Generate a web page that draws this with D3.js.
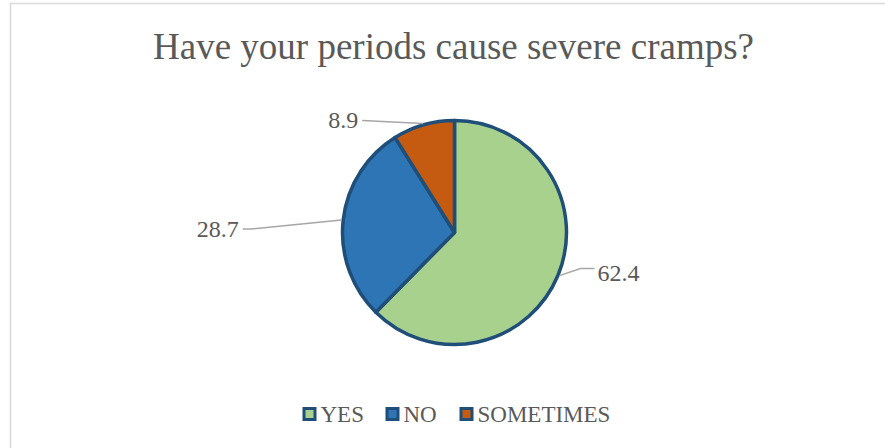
<!DOCTYPE html>
<html>
<head>
<meta charset="utf-8">
<script src="https://cdn.jsdelivr.net/npm/d3@7"></script>
<style>
  html, body { margin: 0; padding: 0; background: #fff; }
  svg { display: block; }
</style>
</head>
<body>
<svg id="chart" width="885" height="448"></svg>
<script>
// Survey answers (percent of respondents)
const categories = ["YES", "NO", "SOMETIMES"];
const values = [62.4, 28.7, 8.9];
const sliceColors = ["#a9d18e", "#2e75b6", "#c55a11"];
const titleText = "Have your periods cause severe cramps?";

// Leader-line layout per slice: elbow and end offsets from the slice edge, text anchor
const labelLayout = [
  { elbow: [21, -7], end: [35, -7], text: [38, -3], anchor: "start" },
  { elbow: [-91, 9], end: [-99, 9], text: [-103, 9], anchor: "end" },
  { elbow: [-61, -3], end: [-61, -3], text: [-65, -3], anchor: "end" }
];

const W = 885, H = 448;
const svg = d3.select("#chart");
const textColor = "#595959";
const serif = "'Liberation Serif', 'Times New Roman', Times, serif";

// Chart frame
svg.append("rect")
  .attr("x", 10.5).attr("y", 3.5)
  .attr("width", W).attr("height", H)
  .attr("fill", "none").attr("stroke", "#d9d9d9").attr("stroke-width", 1.5);

// Title
svg.append("text")
  .attr("x", 453.5).attr("y", 59)
  .attr("text-anchor", "middle")
  .attr("font-family", serif)
  .attr("font-size", 37)
  .attr("fill", textColor)
  .text(titleText);

const cx = 454.5, cy = 232.5, r = 112;
const data = categories.map((c, i) => ({ cat: c, value: values[i], color: sliceColors[i], layout: labelLayout[i] }));

const pie = d3.pie().value(d => d.value).sort(null);
const arc = d3.arc().innerRadius(0).outerRadius(r);
const arcs = pie(data);

const g = svg.append("g").attr("transform", `translate(${cx},${cy})`);

g.selectAll("path.slice")
  .data(arcs)
  .join("path")
  .attr("class", "slice")
  .attr("d", arc)
  .attr("fill", d => d.data.color)
  .attr("stroke", "#1f4e79")
  .attr("stroke-width", 3.5)
  .attr("stroke-linejoin", "round");

// Data labels with leader lines
arcs.forEach(a => {
  const mid = (a.startAngle + a.endAngle) / 2;
  const sx = Math.sin(mid) * (r + 1.5);
  const sy = -Math.cos(mid) * (r + 1.5);
  const L = a.data.layout;
  g.append("polyline")
    .attr("points", [[sx, sy], [sx + L.elbow[0], sy + L.elbow[1]], [sx + L.end[0], sy + L.end[1]]].map(p => p.join(",")).join(" "))
    .attr("fill", "none")
    .attr("stroke", "#a6a6a6")
    .attr("stroke-width", 1.5);
  g.append("text")
    .attr("x", sx + L.text[0])
    .attr("y", sy + L.text[1])
    .attr("dy", "0.33em")
    .attr("text-anchor", L.anchor)
    .attr("font-family", serif)
    .attr("font-size", 24)
    .attr("fill", textColor)
    .text(a.data.value.toFixed(1));
});

// Legend
const legend = svg.append("g").attr("transform", "translate(0,414)");
const legendX = [302.5, 385.5, 459.5];
data.forEach((d, i) => {
  const item = legend.append("g").attr("transform", `translate(${legendX[i]},0)`);
  item.append("rect")
    .attr("x", 1.5).attr("y", -5.5)
    .attr("width", 11).attr("height", 11)
    .attr("fill", d.color)
    .attr("stroke", "#1f4e79")
    .attr("stroke-width", 3);
  item.append("text")
    .attr("x", 18).attr("y", 0)
    .attr("dy", "0.35em")
    .attr("font-family", serif)
    .attr("font-size", 23)
    .attr("fill", textColor)
    .text(d.cat);
});
</script>
</body>
</html>
